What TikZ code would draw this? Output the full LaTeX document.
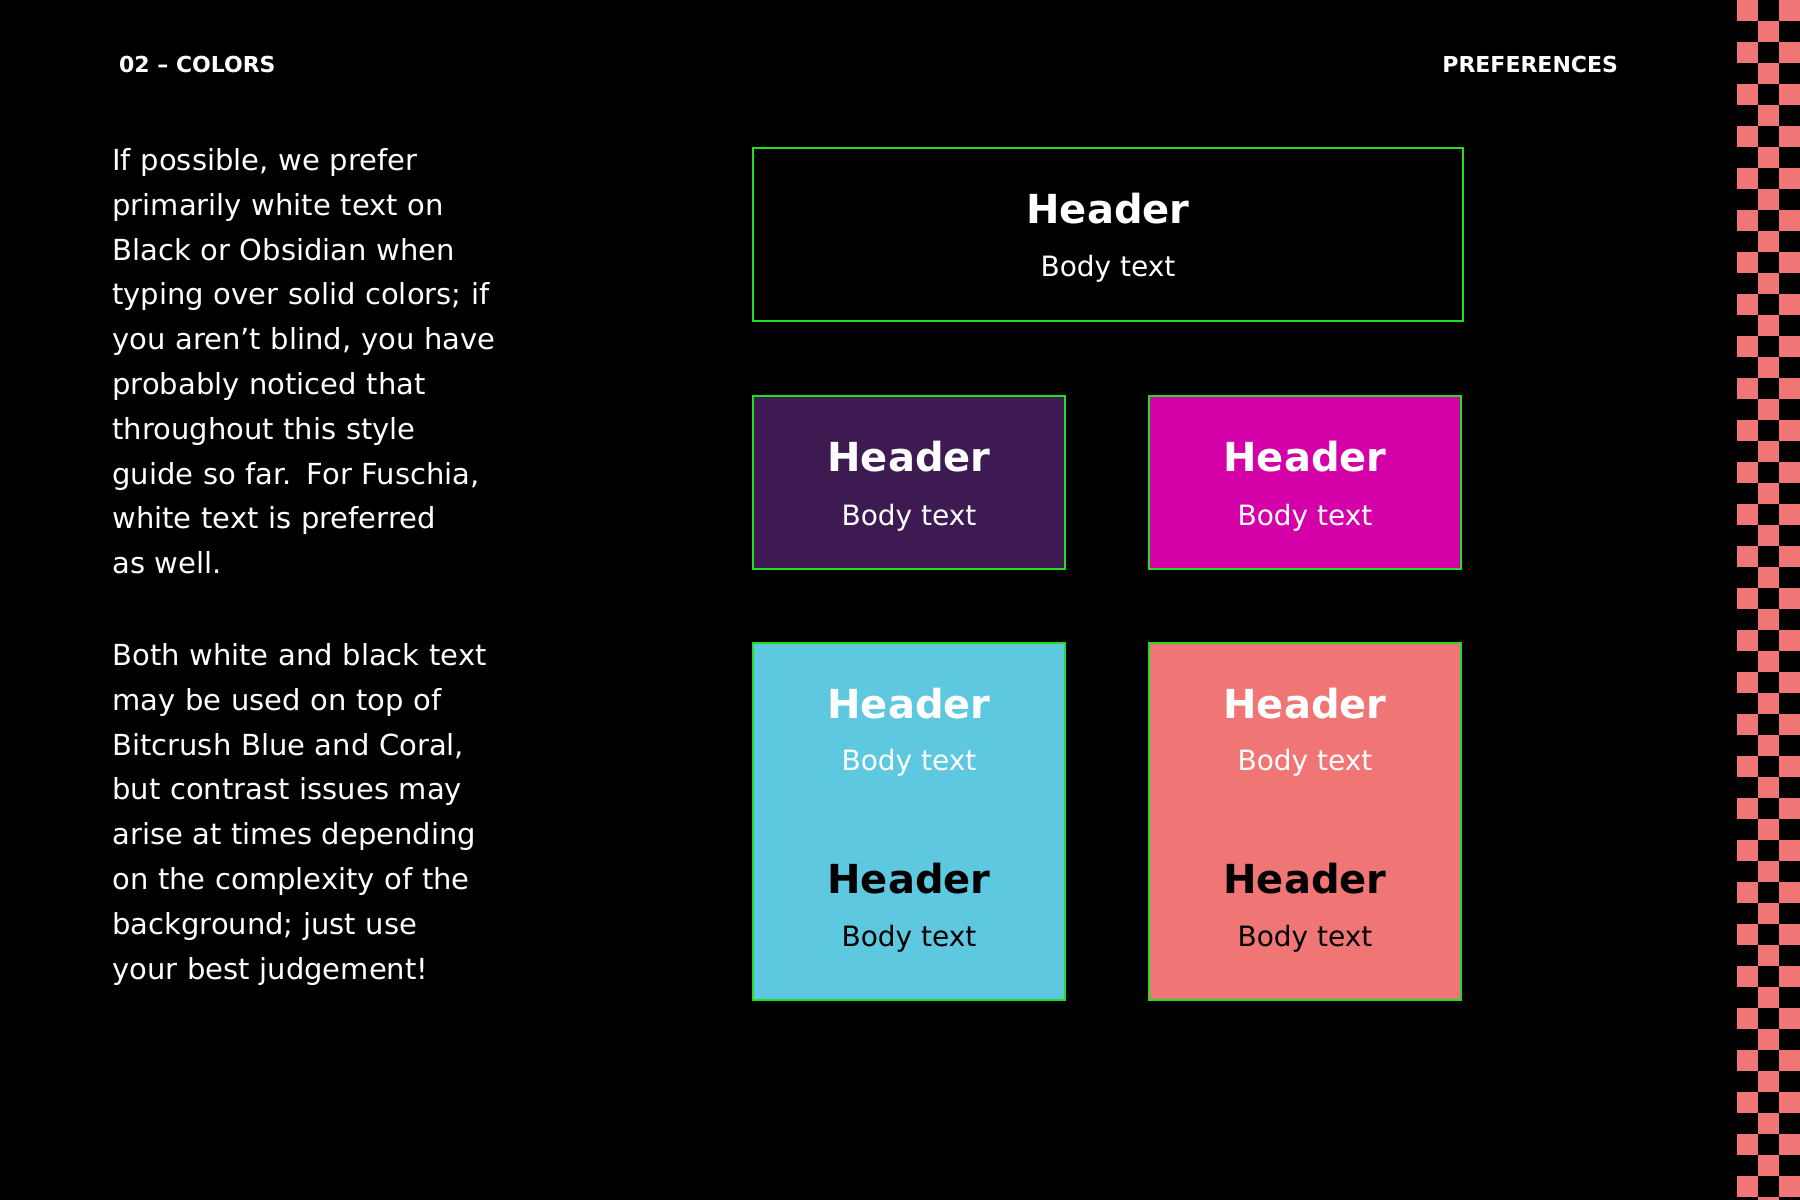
\documentclass[tikz,border=0pt]{standalone}
\usepackage{fontspec}
\setmainfont{DejaVu Sans}
\definecolor{gr}{HTML}{22DD22}
\definecolor{pur}{HTML}{3E1A52}
\definecolor{fus}{HTML}{D400A8}
\definecolor{blu}{HTML}{5EC8E0}
\definecolor{cor}{HTML}{F07676}
\newcommand{\jl}[1]{\makebox[\linewidth][s]{#1}\\}
\begin{document}
\begin{tikzpicture}[x=0.5pt,y=-0.5pt,
 card/.style={draw=gr,line width=1pt},
 hd/.style={font=\fontsize{20}{22}\selectfont\bfseries},
 bd/.style={font=\fontsize{14}{16}\selectfont},
 lbl/.style={font=\fontsize{11}{12}\selectfont\bfseries,text=white}]
\fill[black] (0,0) rectangle (1800,1200);
\useasboundingbox (0,0) rectangle (1800,1200);
\foreach \i in {0,...,57}{\foreach \c in {0,1,2}{
 \pgfmathtruncatemacro\p{mod(\i+\c,2)}
 \ifnum\p=0 \fill[cor] (1737+21*\c,21*\i) rectangle +(21,21);\fi}}
\node[lbl,anchor=west] (t1) at (112,64) {02 – COLORS};
\node[lbl,anchor=east] (t2) at (1625,64) {PREFERENCES};
\node[anchor=north west,inner sep=0,text=white,font=\fontsize{14.5}{22.4}\selectfont,text width=243pt] (p1) at (112,148) {%
\jl{If possible, we prefer}
\jl{primarily white text on}
\jl{Black or Obsidian when}
\jl{typing over solid colors; if}
\jl{you aren't blind, you have}
\jl{probably noticed that}
\jl{throughout this style}
\jl{guide so far. For Fuschia,}
\jl{white text is preferred}
as well.};
\node[anchor=north west,inner sep=0,text=white,font=\fontsize{14.5}{22.4}\selectfont,text width=243pt] (p2) at (112,643) {%
\jl{Both white and black text}
\jl{may be used on top of}
\jl{Bitcrush Blue and Coral,}
\jl{but contrast issues may}
\jl{arise at times depending}
\jl{on the complexity of the}
\jl{background; just use}
your best judgement!};
\draw[card,fill=black] (753,148) rectangle (1463,321);
\node[hd,text=white] (h0) at (1108,209) {Header};
\node[bd,text=white] (b0) at (1108,269) {Body text};
\draw[card,fill=pur] (753,396) rectangle (1065,569);
\node[hd,text=white] (h1) at (909,457) {Header};
\node[bd,text=white] (b1) at (909,518) {Body text};
\draw[card,fill=fus] (1149,396) rectangle (1461,569);
\node[hd,text=white] (h2) at (1305,457) {Header};
\node[bd,text=white] (b2) at (1305,518) {Body text};
\draw[card,fill=blu] (753,643) rectangle (1065,1000);
\node[hd,text=white] (h3) at (909,704) {Header};
\node[bd,text=white] (b3) at (909,763) {Body text};
\node[hd,text=black] (h4) at (909,879) {Header};
\node[bd,text=black] (b4) at (909,939) {Body text};
\draw[card,fill=cor] (1149,643) rectangle (1461,1000);
\node[hd,text=white] (h5) at (1305,704) {Header};
\node[bd,text=white] (b5) at (1305,763) {Body text};
\node[hd,text=black] (h6) at (1305,879) {Header};
\node[bd,text=black] (b6) at (1305,939) {Body text};
\end{tikzpicture}
\end{document}
